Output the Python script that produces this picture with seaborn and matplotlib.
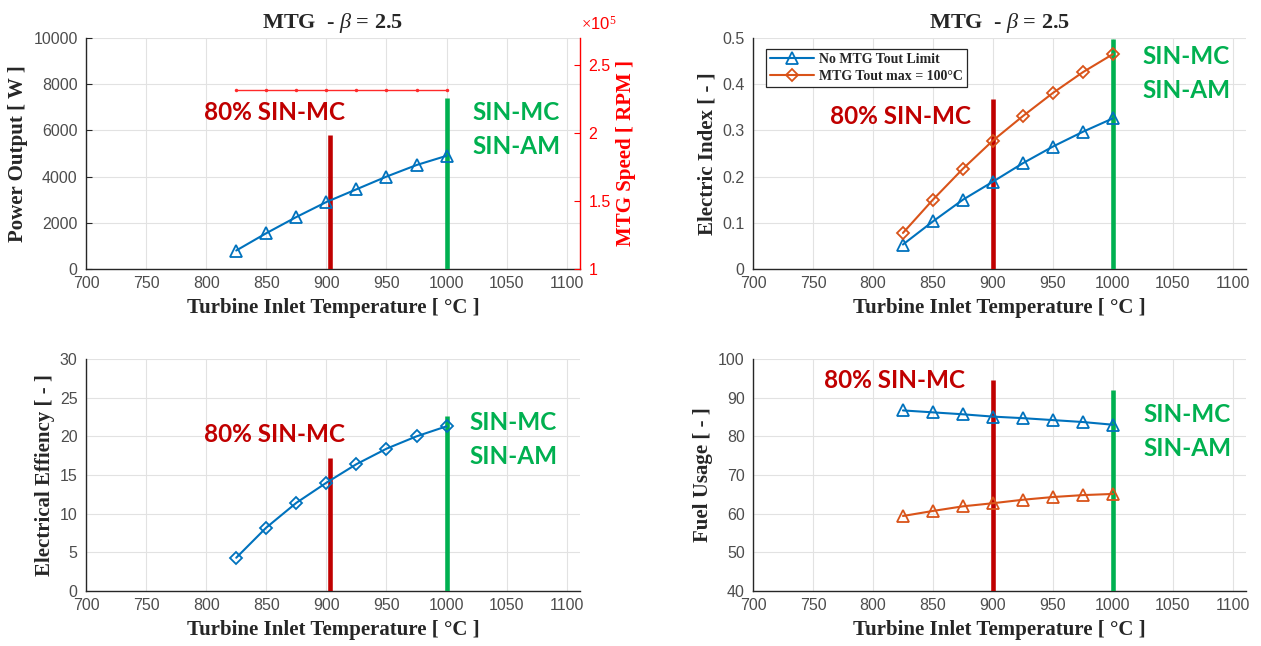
import matplotlib
matplotlib.use("Agg")
import matplotlib.pyplot as plt
from matplotlib.ticker import MultipleLocator, FuncFormatter
import seaborn as sns

# Turbine inlet temperature sweep [°C]
tit = [825, 850, 875, 900, 925, 950, 975, 1000]

# Power output [W] and shaft speed [RPM]
power_w = [800, 1550, 2250, 2900, 3450, 4000, 4500, 4900]
speed_rpm = [2.32e5] * 8

# Electric index [-]
ei_no_limit = [0.053, 0.103, 0.150, 0.189, 0.229, 0.265, 0.297, 0.326]
ei_tout_max = [0.078, 0.150, 0.217, 0.278, 0.331, 0.381, 0.426, 0.465]

# Electrical efficiency [-]
eff = [4.3, 8.2, 11.4, 14.0, 16.4, 18.4, 20.0, 21.3]

# Fuel usage [-]
fu_no_limit = [86.7, 86.2, 85.7, 85.1, 84.7, 84.2, 83.7, 83.0]
fu_tout_max = [59.4, 60.7, 61.9, 62.7, 63.6, 64.3, 64.8, 65.1]

series_names = ["No MTG Tout Limit", "MTG Tout max = 100\u00b0C"]

# Operating-point bars per panel: x position and top value
sin80_x = [903, 900, 903, 900]
sin80_top = [5800, 0.369, 17.2, 94.5]
sin_x = [1000, 1000, 1000, 1000]
sin_top = [7400, 0.497, 22.6, 92.0]

BLUE = "#0072BD"
ORANGE = "#D95319"
DRED = "#C00000"
GREEN = "#00B050"
TICKC = "#4d4d4d"
AXC = "#262626"

sns.set_theme(style="whitegrid")
plt.rcParams.update({
    "mathtext.fontset": "custom",
    "mathtext.it": "Liberation Serif:italic",
    "mathtext.rm": "Liberation Serif",
    "font.family": ["Liberation Sans", "DejaVu Sans"],
})

W, H = 1261, 646
fig = plt.figure(figsize=(W / 100, H / 100), dpi=100)
fig.patch.set_facecolor("white")

L_left, L_w = 86 / W, 494 / W
R_left, R_w = 753 / W, 493 / W
T_bot, T_h = 1 - 269 / H, 231 / H
B_bot, B_h = 1 - 591 / H, 232 / H

ax_pw = fig.add_axes([L_left, T_bot, L_w, T_h])
ax_ei = fig.add_axes([R_left, T_bot, R_w, T_h])
ax_ef = fig.add_axes([L_left, B_bot, L_w, B_h])
ax_fu = fig.add_axes([R_left, B_bot, R_w, B_h])

serif_bold = dict(family="Liberation Serif", weight="bold")
label_font = dict(fontsize=15, **serif_bold)
anno_font = dict(family="Lato", weight="bold", fontsize=17.5)

gfmt = FuncFormatter(lambda v, p: f"{v:g}")


def style_axes(ax, ylim, ystep, ylabel, ylab_x):
    ax.set_facecolor("white")
    ax.set_xlim(700, 1111)
    ax.set_ylim(*ylim)
    ax.xaxis.set_major_locator(MultipleLocator(50))
    ax.yaxis.set_major_locator(MultipleLocator(ystep))
    ax.yaxis.set_major_formatter(gfmt)
    ax.grid(True, color="#e2e2e2", linewidth=0.8)
    for side in ("top", "right"):
        ax.spines[side].set_visible(False)
    for side in ("left", "bottom"):
        ax.spines[side].set_color(AXC)
        ax.spines[side].set_linewidth(1.0)
    ax.tick_params(axis="both", direction="in", length=4, width=0.8,
                   color=AXC, labelsize=11.5, labelcolor=TICKC)
    ax.tick_params(axis="x", pad=5)
    ax.tick_params(axis="y", pad=6)
    ax.set_xlabel("Turbine Inlet Temperature [ \u00b0C ]", **label_font)
    ax.xaxis.set_label_coords(0.5, -0.125)
    ax.set_ylabel(ylabel, **label_font)
    ax.yaxis.set_label_coords(ylab_x, 0.5)


def draw(ax, y, color, marker, size, label=None):
    sns.lineplot(x=tit, y=y, ax=ax, color=color, linewidth=1.5,
                 marker=marker, markersize=size, markerfacecolor="none",
                 markeredgecolor=color, markeredgewidth=1.3, label=label,
                 legend=False, zorder=5)


def bars(ax, i, bottom):
    ax.vlines(sin80_x[i], bottom, sin80_top[i], color=DRED, linewidth=3.3, zorder=4)
    ax.vlines(sin_x[i], bottom, sin_top[i], color=GREEN, linewidth=3.3, zorder=4)


def px_text(xpx, ypx, text, color, ha):
    fig.text(xpx / W, 1 - ypx / H, text, color=color, ha=ha, va="center", **anno_font)


title = r"MTG  - $\mathit{\beta}$ = 2.5"

# Power output, with shaft speed on a second axis
style_axes(ax_pw, (0, 10000), 2000, "Power Output [ W ]", -0.117)
ax_pw.set_title(title, fontsize=16, pad=7, **serif_bold)
bars(ax_pw, 0, 0)
draw(ax_pw, power_w, BLUE, "^", 9)

ax_rpm = ax_pw.twinx()
ax_rpm.set_position([L_left, T_bot, L_w, T_h])
ax_rpm.grid(False)
sns.lineplot(x=tit, y=speed_rpm, ax=ax_rpm, color="#ff2a2a", linewidth=1.0,
             marker="o", markersize=2.5, markeredgewidth=0, legend=False)
ax_rpm.set_ylim(1e5, 2.7e5)
ax_rpm.yaxis.set_major_locator(MultipleLocator(0.5e5))
ax_rpm.yaxis.set_major_formatter(FuncFormatter(lambda v, p: f"{v / 1e5:g}"))
for side in ("top", "left", "bottom"):
    ax_rpm.spines[side].set_visible(False)
ax_rpm.spines["right"].set_color("red")
ax_rpm.spines["right"].set_linewidth(1.0)
ax_rpm.tick_params(axis="y", direction="in", length=4, width=0.8, color="red",
                   labelcolor="red", labelsize=11.5, pad=6)
ax_rpm.set_ylabel("MTG Speed [ RPM ]", color="red", **label_font)
ax_rpm.yaxis.set_label_coords(1.072, 0.5)
ax_rpm.text(1.003, 1.035, r"$\times$10$^{5}$", transform=ax_rpm.transAxes,
            color="red", fontsize=12, ha="left", va="baseline",
            family="Liberation Sans")

# Electric index
style_axes(ax_ei, (0, 0.5), 0.1, "Electric Index [ - ]", -0.073)
ax_ei.set_title(title, fontsize=16, pad=7, **serif_bold)
bars(ax_ei, 1, 0)
draw(ax_ei, ei_no_limit, BLUE, "^", 9, series_names[0])
draw(ax_ei, ei_tout_max, ORANGE, "D", 6.5, series_names[1])
leg = ax_ei.legend(loc="upper left", bbox_to_anchor=(0.026, 0.952),
                   borderaxespad=0.0,
                   prop=dict(family="Liberation Serif", weight="bold", size=10),
                   frameon=True, fancybox=False, edgecolor=AXC, framealpha=1,
                   borderpad=0.3, handlelength=3.2, labelspacing=0.25,
                   handletextpad=0.3)
leg.get_frame().set_linewidth(0.9)

# Electrical efficiency
style_axes(ax_ef, (0, 30), 5, "Electrical Effiency [ - ]", -0.063)
bars(ax_ef, 2, 0)
draw(ax_ef, eff, BLUE, "D", 6.5)

# Fuel usage
style_axes(ax_fu, (40, 100), 10, "Fuel Usage [ - ]", -0.081)
bars(ax_fu, 3, 40)
draw(ax_fu, fu_no_limit, BLUE, "^", 9)
draw(ax_fu, fu_tout_max, ORANGE, "^", 9)

# Operating-point captions
px_text(275, 113, "80% SIN-MC", DRED, "center")
px_text(472, 113, "SIN-MC", GREEN, "left")
px_text(472, 147, "SIN-AM", GREEN, "left")

px_text(901, 117, "80% SIN-MC", DRED, "center")
px_text(1142, 57, "SIN-MC", GREEN, "left")
px_text(1142, 90, "SIN-AM", GREEN, "left")

px_text(275, 434, "80% SIN-MC", DRED, "center")
px_text(469, 422, "SIN-MC", GREEN, "left")
px_text(469, 456, "SIN-AM", GREEN, "left")

px_text(895, 380, "80% SIN-MC", DRED, "center")
px_text(1143, 415, "SIN-MC", GREEN, "left")
px_text(1143, 449, "SIN-AM", GREEN, "left")

fig.savefig("out.png", dpi=100, facecolor="white")
